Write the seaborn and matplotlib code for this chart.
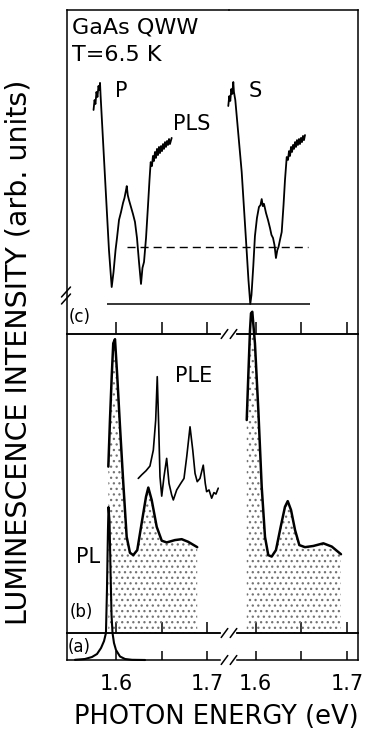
import matplotlib
matplotlib.use("Agg")
import matplotlib.pyplot as plt
import seaborn as sns
from matplotlib.lines import Line2D

# ---------------- data (photon energy in eV, intensity in arb. units) ----------------
# (c) PLS, P polarisation (left energy segment)
pls_p_energy = [1.5754, 1.5765, 1.5775, 1.5786, 1.5797, 1.5808, 1.5819, 1.5825, 1.5831,
                1.5880, 1.5923, 1.5953, 1.5973, 1.5995, 1.6011, 1.6033, 1.6055, 1.6077,
                1.6093, 1.6110, 1.6118, 1.6129, 1.6142, 1.6164, 1.6186, 1.6208, 1.6230,
                1.6252, 1.6274, 1.6290, 1.6307, 1.6329, 1.6351, 1.6367, 1.6380, 1.6394,
                1.6405, 1.6416, 1.6427, 1.6438, 1.6449, 1.6460, 1.6471, 1.6482, 1.6493,
                1.6504, 1.6515, 1.6526, 1.6537, 1.6548, 1.6559, 1.6570, 1.6581, 1.6591,
                1.6610]
pls_p_int = [0.882, 0.927, 0.909, 0.964, 0.941, 0.991, 0.973, 1.005, 0.950,
             0.573, 0.245, 0.077, 0.145, 0.245, 0.300, 0.382, 0.418, 0.459,
             0.482, 0.518, 0.536, 0.495, 0.473, 0.441, 0.409, 0.373, 0.300,
             0.191, 0.091, 0.164, 0.191, 0.300, 0.450, 0.564, 0.645, 0.627,
             0.673, 0.650, 0.691, 0.664, 0.705, 0.677, 0.714, 0.686, 0.718,
             0.695, 0.727, 0.705, 0.736, 0.714, 0.741, 0.723, 0.750, 0.727,
             0.755]
# (c) PLS, S polarisation (right energy segment)
pls_s_energy = [1.5701, 1.5712, 1.5723, 1.5734, 1.5745, 1.5756, 1.5763, 1.5778, 1.5848,
                1.5895, 1.5922, 1.5942, 1.5955, 1.5975, 1.5993, 1.6015, 1.6037, 1.6054,
                1.6067, 1.6079, 1.6092, 1.6114, 1.6136, 1.6158, 1.6174, 1.6191, 1.6207,
                1.6223, 1.6238, 1.6251, 1.6267, 1.6286, 1.6306, 1.6322, 1.6341, 1.6355,
                1.6366, 1.6377, 1.6388, 1.6399, 1.6410, 1.6421, 1.6432, 1.6443, 1.6453,
                1.6464, 1.6475, 1.6486, 1.6497, 1.6508, 1.6519, 1.6530, 1.6541]
pls_s_int = [0.900, 0.945, 0.923, 0.977, 0.955, 1.009, 0.964, 0.927, 0.600,
             0.291, 0.109, 0.000, 0.041, 0.173, 0.309, 0.391, 0.441, 0.450,
             0.477, 0.445, 0.455, 0.414, 0.382, 0.345, 0.314, 0.300, 0.268,
             0.209, 0.245, 0.259, 0.291, 0.327, 0.450, 0.564, 0.668, 0.655,
             0.695, 0.673, 0.714, 0.691, 0.723, 0.705, 0.736, 0.714, 0.745,
             0.723, 0.750, 0.727, 0.755, 0.736, 0.764, 0.745, 0.768]
# (c) reference levels: zero line and dashed level, with their energy extents
pls_zero_level = 0.0
pls_zero_from_to = [1.5898, 1.6596]
pls_dash_level = 0.259
pls_dash_from_to = [1.6117, 1.6577]

# (b) PL, left segment
pl_b_left_energy = [1.5916, 1.5934, 1.5953, 1.5970, 1.5989, 1.6014, 1.6044, 1.6080,
                    1.6117, 1.6153, 1.6189, 1.6233, 1.6281, 1.6329, 1.6354, 1.6391,
                    1.6446, 1.6501, 1.6555, 1.6646, 1.6720, 1.6792, 1.6890]
pl_b_left_int = [0.564, 0.722, 0.869, 0.982, 0.996, 0.869, 0.699, 0.507,
                 0.326, 0.272, 0.264, 0.281, 0.372, 0.462, 0.493, 0.451,
                 0.360, 0.313, 0.307, 0.315, 0.318, 0.309, 0.291]
# (b) PL, right segment
pl_b_right_energy = [1.5903, 1.5920, 1.5939, 1.5950, 1.5964, 1.5993, 1.6030, 1.6067,
                     1.6103, 1.6139, 1.6176, 1.6223, 1.6275, 1.6322, 1.6352, 1.6388,
                     1.6432, 1.6479, 1.6541, 1.6632, 1.6742, 1.6834, 1.6935]
pl_b_right_int = [0.722, 0.869, 1.027, 1.084, 1.089, 0.982, 0.756, 0.496,
                  0.326, 0.264, 0.259, 0.281, 0.360, 0.428, 0.447, 0.417,
                  0.349, 0.298, 0.291, 0.295, 0.304, 0.293, 0.267]
# (b) PLE
ple_energy = [1.6244, 1.6281, 1.6329, 1.6372, 1.6409, 1.6435, 1.6452, 1.6468, 1.6482,
              1.6501, 1.6526, 1.6555, 1.6581, 1.6610, 1.6628, 1.6665, 1.6709, 1.6745,
              1.6775, 1.6811, 1.6841, 1.6866, 1.6890, 1.6920, 1.6956, 1.6978, 1.6993,
              1.7019, 1.7048, 1.7073, 1.7095, 1.7120]
ple_int = [0.524, 0.536, 0.550, 0.566, 0.620, 0.722, 0.869, 0.699, 0.530,
           0.464, 0.530, 0.592, 0.507, 0.468, 0.451, 0.485, 0.507, 0.524,
           0.598, 0.699, 0.620, 0.541, 0.513, 0.524, 0.569, 0.507, 0.479,
           0.485, 0.457, 0.476, 0.471, 0.491]
# (a) PL
pl_a_energy = [1.5551, 1.5660, 1.5737, 1.5792, 1.5836, 1.5869, 1.5890, 1.5901, 1.5912,
               1.5918, 1.5929, 1.5940, 1.5951, 1.5962, 1.5978, 1.6000, 1.6044, 1.6099,
               1.6175, 1.6318]
pl_a_int = [0.007, 0.037, 0.111, 0.222, 0.444, 0.704, 1.000, 2.593, 4.815,
            5.667, 5.185, 3.333, 1.667, 1.000, 0.630, 0.370, 0.130, 0.037,
            0.007, 0.000]

tick_values = [1.6, 1.65, 1.7]
tick_labels = ["1.6", "", "1.7"]
xlim_left = (1.546, 1.7238)
xlim_right = (1.5709, 1.7118)
break_left_end = 1.7139
break_right_start = 1.5796

# ---------------- figure ----------------
sns.set_theme(style="white")
plt.rcParams["font.family"] = ["DejaVu Sans"]
plt.rcParams["hatch.linewidth"] = 0.9

W, H = 369, 742
fig = plt.figure(figsize=(W / 100, H / 100), dpi=100)

XL, XB, XR = 66.7, 229.0, 357.7
rows = {"c": (10, 334), "b": (334, 633), "a": (633, 660)}
ylims = {"c": (-0.1364, 1.3364), "b": (0.0, 1.0136), "a": (0.0, 1.0)}
ticklen = {"c": 8.6, "b": 8.0, "a": 6.5}
LW = 1.1


def add_ax(x0, x1, y0, y1):
    return fig.add_axes([x0 / W, 1 - y1 / H, (x1 - x0) / W, (y1 - y0) / H])


def style(ax, side, row):
    ax.set_facecolor("none")
    for s in ax.spines.values():
        s.set_linewidth(LW)
        s.set_color("black")
        s.set_visible(True)
    ax.set_ylim(*ylims[row])
    ax.set_yticks([])
    ax.set_xticks(tick_values)
    if side == "L":
        ax.set_xlim(*xlim_left)
        ax.spines["right"].set_visible(False)
        ax.spines["bottom"].set_bounds(xlim_left[0], break_left_end)
        if row != "c":
            ax.spines["top"].set_bounds(xlim_left[0], break_left_end)
    else:
        ax.set_xlim(*xlim_right)
        ax.spines["left"].set_visible(False)
        ax.spines["bottom"].set_bounds(break_right_start, xlim_right[1])
        if row != "c":
            ax.spines["top"].set_bounds(break_right_start, xlim_right[1])
    ax.tick_params(axis="x", which="both", direction="in", length=ticklen[row],
                   width=LW, color="black", bottom=True, top=False,
                   labelbottom=(row == "a"), labeltop=False, labelsize=15, pad=10,
                   labelcolor="black")
    ax.tick_params(axis="y", which="both", left=False, right=False)
    if row == "a":
        ax.set_xticklabels(tick_labels)
    ax.set_xlabel("")
    ax.set_ylabel("")


axes = {}
for row in ["c", "b", "a"]:
    y0, y1 = rows[row]
    axes[(row, "L")] = add_ax(XL, XB, y0, y1)
    axes[(row, "R")] = add_ax(XB, XR, y0, y1)

# ---- (c) PLS ----
axc_l, axc_r = axes[("c", "L")], axes[("c", "R")]
sns.lineplot(x=pls_p_energy, y=pls_p_int, ax=axc_l, color="black", linewidth=1.3,
             sort=False, estimator=None)
sns.lineplot(x=pls_s_energy, y=pls_s_int, ax=axc_r, color="black", linewidth=1.3,
             sort=False, estimator=None, clip_on=False)
axc_l.hlines(pls_zero_level, pls_zero_from_to[0], xlim_left[1], color="black", lw=1.1)
axc_r.hlines(pls_zero_level, xlim_right[0], pls_zero_from_to[1], color="black", lw=1.1)
axc_l.hlines(pls_dash_level, pls_dash_from_to[0], xlim_left[1], color="black", lw=1.0,
             linestyles=(0, (5.8, 3.6)))
axc_r.hlines(pls_dash_level, xlim_right[0], pls_dash_from_to[1], color="black", lw=1.0,
             linestyles=(0, (5.8, 3.6)))

# ---- (b) PL and PLE ----
axb_l, axb_r = axes[("b", "L")], axes[("b", "R")]
axb_l.fill_between(pl_b_left_energy, pl_b_left_int, 0, facecolor="none",
                   edgecolor="0.45", hatch="...", linewidth=0)
axb_r.fill_between(pl_b_right_energy, pl_b_right_int, 0, facecolor="none",
                   edgecolor="0.45", hatch="...", linewidth=0)
sns.lineplot(x=pl_b_left_energy, y=pl_b_left_int, ax=axb_l, color="black",
             linewidth=1.8, sort=False, estimator=None, clip_on=False)
sns.lineplot(x=pl_b_right_energy, y=pl_b_right_int, ax=axb_r, color="black",
             linewidth=1.8, sort=False, estimator=None, clip_on=False)
sns.lineplot(x=ple_energy, y=ple_int, ax=axb_l, color="black", linewidth=1.2,
             sort=False, estimator=None)

# ---- (a) PL ----
axa_l = axes[("a", "L")]
sns.lineplot(x=pl_a_energy, y=pl_a_int, ax=axa_l, color="black", linewidth=1.5,
             sort=False, estimator=None, clip_on=False)

for (row, side), ax in axes.items():
    style(ax, side, row)


# ---- axis-break marks ----
def fline(xs, ys, lw=1.1):
    fig.add_artist(Line2D([x / W for x in xs], [1 - y / H for y in ys],
                          transform=fig.transFigure, color="black", lw=lw))


for yc in (334, 633, 660):
    for xc in (224.5, 233.5):
        fline([xc - 3.3, xc + 3.3], [yc + 4.5, yc - 4.5])
for yc in (292, 299):
    fline([61.5, 70.5], [yc + 5, yc - 5])


# ---- texts ----
def ftext(x, y, s, size, **kw):
    fig.text(x / W, 1 - y / H, s, fontsize=size, color="black", **kw)


ftext(72, 28, "GaAs QWW", 16, ha="left", va="center")
ftext(72, 55, "T=6.5 K", 16, ha="left", va="center")
ftext(121.7, 91, "P", 15, ha="center", va="center")
ftext(255.5, 91, "S", 15, ha="center", va="center")
ftext(191.7, 123.5, "PLS", 15, ha="center", va="center")
ftext(193.3, 376, "PLE", 15, ha="center", va="center")
ftext(88, 557, "PL", 15, ha="center", va="center")
ftext(79.5, 317.5, "(c)", 12, ha="center", va="center")
ftext(81, 612, "(b)", 12, ha="center", va="center")
ftext(79.5, 646.5, "(a)", 12, ha="center", va="center")
ftext(216, 717, "PHOTON ENERGY (eV)", 18.5, ha="center", va="center")
ftext(19, 352, "LUMINESCENCE INTENSITY (arb. units)", 20.5, ha="center", va="center",
      rotation=90)

fig.savefig("out.png", dpi=100, facecolor="white")
